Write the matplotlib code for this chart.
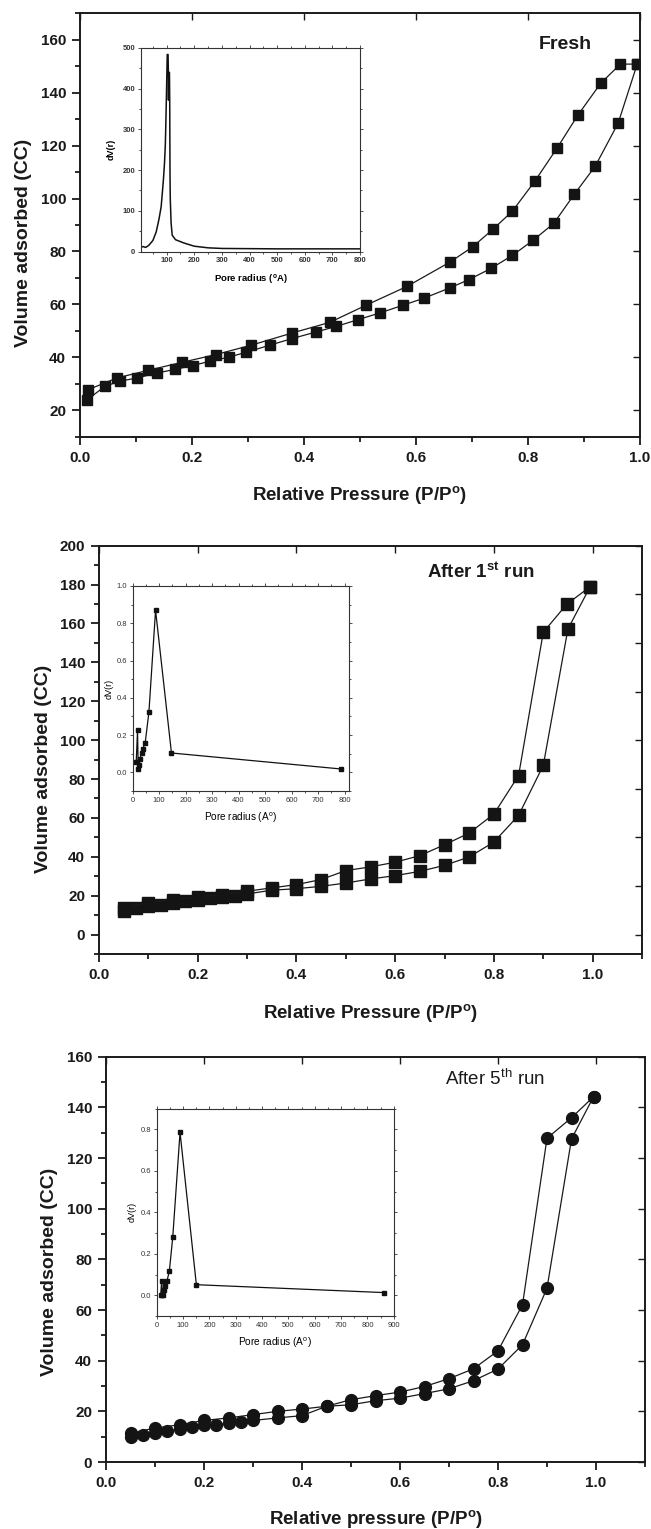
import matplotlib
matplotlib.use("Agg")
import matplotlib.pyplot as plt
from matplotlib.ticker import MultipleLocator

plt.rcParams['font.family'] = ['Liberation Sans', 'DejaVu Sans']
plt.rcParams['mathtext.default'] = 'regular'

# ---------------- Data ----------------
# Panel 1: Fresh
fresh_ads_p = [0.013, 0.045, 0.072, 0.102, 0.138, 0.169, 0.201, 0.232, 0.266, 0.297,
               0.339, 0.379, 0.422, 0.458, 0.496, 0.536, 0.577, 0.615, 0.660, 0.695,
               0.734, 0.772, 0.809, 0.846, 0.883, 0.920, 0.961, 0.995]
fresh_ads_v = [24.0, 29.1, 31.0, 32.2, 34.1, 35.4, 36.9, 38.5, 40.1, 41.9,
               44.6, 47.1, 49.6, 51.7, 54.2, 56.8, 59.7, 62.4, 66.2, 69.4,
               73.6, 78.5, 84.2, 90.6, 101.7, 112.2, 128.5, 150.8]
fresh_des_p = [0.995, 0.965, 0.930, 0.889, 0.852, 0.812, 0.772, 0.738, 0.701, 0.660,
               0.584, 0.511, 0.446, 0.379, 0.306, 0.242, 0.182, 0.122, 0.066, 0.015]
fresh_des_v = [150.8, 150.8, 143.6, 131.5, 119.1, 106.5, 95.2, 88.5, 81.7, 75.9,
               66.8, 59.7, 53.2, 49.2, 44.6, 41.0, 38.1, 35.1, 32.2, 27.8]

fresh_r = [7, 15, 24, 35, 50, 62, 72, 80, 84, 88, 92, 95, 97, 100, 102, 105, 106,
           106.5, 108, 110, 111, 112, 113, 116, 120, 132, 162, 200, 250, 300, 400,
           500, 600, 700, 800]
fresh_dv = [11, 12, 10, 15, 27, 48, 79, 110, 142, 175, 216, 260, 315, 414, 484, 484, 446,
            372, 440, 440, 370, 192, 130, 70, 40, 29, 21, 13, 9, 7.5, 7,
            6.5, 6.5, 6.5, 6.5]

# Panel 2: After 1st run
run1_ads_p = [0.05, 0.075, 0.10, 0.125, 0.15, 0.175, 0.20, 0.225, 0.25, 0.275, 0.30,
              0.35, 0.40, 0.45, 0.50, 0.55, 0.60, 0.65, 0.70, 0.75, 0.80, 0.85,
              0.90, 0.95, 0.995]
run1_ads_v = [12.0, 13.5, 14.6, 15.4, 16.3, 17.1, 18.0, 18.7, 19.3, 20.0, 20.9,
              22.8, 23.6, 24.8, 26.5, 28.6, 30.3, 32.5, 35.6, 39.9, 47.6, 61.3,
              87.0, 157.2, 178.9]
run1_des_p = [0.995, 0.948, 0.90, 0.85, 0.80, 0.75, 0.70, 0.65, 0.60, 0.55, 0.50,
              0.45, 0.40, 0.35, 0.30, 0.25, 0.20, 0.15, 0.10, 0.05]
run1_des_v = [178.9, 170.0, 155.5, 81.8, 62.0, 52.2, 46.2, 40.6, 37.2, 34.8, 32.9,
              28.3, 25.7, 24.0, 22.3, 20.5, 19.2, 18.0, 16.3, 13.7]

run1_r = [14, 19, 21.5, 25, 29, 34, 39, 48, 62, 87, 147, 788]
run1_dv = [0.054, 0.226, 0.018, 0.038, 0.073, 0.106, 0.127, 0.16, 0.324, 0.87, 0.104, 0.018]

# Panel 3: After 5th run
run5_ads_p = [0.05, 0.075, 0.10, 0.125, 0.15, 0.175, 0.20, 0.225, 0.25, 0.275, 0.30,
              0.35, 0.40, 0.45, 0.50, 0.55, 0.60, 0.65, 0.70, 0.75, 0.80, 0.85,
              0.90, 0.95, 0.995]
run5_ads_v = [9.9, 10.5, 11.4, 12.1, 13.0, 13.8, 14.5, 14.7, 15.4, 15.6, 16.4,
              17.4, 18.3, 22.0, 22.6, 24.2, 25.2, 27.0, 28.9, 32.1, 36.7, 46.3,
              68.6, 127.5, 144.2]
run5_des_p = [0.995, 0.95, 0.90, 0.85, 0.80, 0.75, 0.70, 0.65, 0.60, 0.55, 0.50,
              0.45, 0.40, 0.35, 0.30, 0.25, 0.20, 0.15, 0.10, 0.05]
run5_des_v = [144.2, 135.9, 127.8, 62.1, 43.9, 36.8, 32.9, 29.8, 27.6, 26.2, 24.6,
              22.0, 20.9, 20.0, 18.7, 17.4, 16.4, 14.7, 13.4, 11.4]

run5_r = [15, 19, 21.5, 25, 29, 33, 39, 48, 61, 88.6, 150.6, 862]
run5_dv = [0.0, 0.07, 0.0, 0.0, 0.024, 0.047, 0.069, 0.116, 0.281, 0.786, 0.051, 0.013]

# ---------------- Figure ----------------
W, H = 651, 1529
fig = plt.figure(figsize=(W / 100, H / 100), dpi=100)


def px_axes(left, top, right, bottom):
    return fig.add_axes([left / W, 1 - bottom / H, (right - left) / W, (bottom - top) / H])


def style_main(ax):
    for s in ax.spines.values():
        s.set_linewidth(1.4)
        s.set_color('#1a1a1a')
    ax.tick_params(which='both', direction='out', top=False, right=False,
                   width=1.3, colors='#1a1a1a')
    ax.tick_params(which='major', length=6, labelsize=11, pad=4)
    ax.tick_params(which='minor', length=3.5)
    sec_x = ax.secondary_xaxis('top')
    sec_y = ax.secondary_yaxis('right')
    for sec in (sec_x, sec_y):
        sec.tick_params(which='both', direction='in', width=1.0, labelsize=0,
                        colors='#1a1a1a')
        sec.tick_params(which='major', length=5)
        sec.tick_params(which='minor', length=3)
        for s in sec.spines.values():
            s.set_visible(False)
    sec_x.set_xticklabels([])
    sec_y.set_yticklabels([])
    return sec_x, sec_y


def bold_ticks(ax):
    for lab in ax.get_xticklabels() + ax.get_yticklabels():
        lab.set_fontweight('bold')
        lab.set_color('#1a1a1a')


def style_inset(ax, bold=False, lsize=5.5):
    for s in ax.spines.values():
        s.set_linewidth(0.8)
        s.set_color('#333333')
    ax.tick_params(which='both', direction='out', width=0.6, colors='#333333',
                   top=True, right=True)
    ax.tick_params(which='major', length=2.5, labelsize=lsize, pad=1.5)
    ax.tick_params(which='minor', length=1.5)
    if bold:
        for lab in ax.get_xticklabels() + ax.get_yticklabels():
            lab.set_fontweight('bold')


mk_col = '#141414'
line_kw = dict(color='#1a1a1a', lw=0.9)

# ----- Panel 1 -----
ax1 = px_axes(80, 13.3, 640, 436.7)
ax1.plot(fresh_ads_p, fresh_ads_v, marker='s', ms=7.5, mfc=mk_col, mec=mk_col, **line_kw)
ax1.plot(fresh_des_p, fresh_des_v, marker='s', ms=7.5, mfc=mk_col, mec=mk_col, **line_kw)
ax1.set_xlim(0, 1.0)
ax1.set_ylim(10, 170)
ax1.xaxis.set_major_locator(MultipleLocator(0.2))
ax1.xaxis.set_minor_locator(MultipleLocator(0.1))
ax1.yaxis.set_major_locator(MultipleLocator(20))
ax1.yaxis.set_minor_locator(MultipleLocator(10))
ax1.set_yticks([20, 40, 60, 80, 100, 120, 140, 160])
style_main(ax1)
bold_ticks(ax1)
ax1.set_ylabel('Volume adsorbed (CC)', fontsize=14, fontweight='bold', color='#1a1a1a')
ax1.yaxis.set_label_coords(-0.085, 0.4575)
ax1.set_xlabel('Relative Pressure (P/P$^{\\mathregular{o}}$)', fontsize=13.5,
               fontweight='bold', color='#1a1a1a')
ax1.xaxis.set_label_coords(0.5, -0.112)
ax1.text(0.82, 0.915, 'Fresh', transform=ax1.transAxes, fontsize=14, fontweight='bold',
         color='#1a1a1a', va='baseline', ha='left')

in1 = px_axes(141, 48, 360, 251.5)
in1.plot(fresh_r, fresh_dv, color='#111111', lw=1.1)
in1.set_xlim(7, 800)
in1.set_ylim(0, 500)
in1.xaxis.set_major_locator(MultipleLocator(100))
in1.xaxis.set_minor_locator(MultipleLocator(50))
in1.yaxis.set_major_locator(MultipleLocator(100))
in1.yaxis.set_minor_locator(MultipleLocator(50))
in1.set_xticks([100, 200, 300, 400, 500, 600, 700, 800])
style_inset(in1, bold=True, lsize=5.5)
in1.set_ylabel('dV(r)', fontsize=6.5, fontweight='bold', labelpad=5)
in1.set_xlabel('Pore radius ($^{\\mathregular{o}}$A)', fontsize=6.8, fontweight='bold', labelpad=6)

# ----- Panel 2 -----
ax2 = px_axes(99, 545.7, 642, 954)
ax2.plot(run1_ads_p, run1_ads_v, marker='s', ms=8, mfc=mk_col, mec=mk_col, **line_kw)
ax2.plot(run1_des_p, run1_des_v, marker='s', ms=8, mfc=mk_col, mec=mk_col, **line_kw)
ax2.set_xlim(0, 1.1)
ax2.set_ylim(-10, 200)
ax2.set_xticks([0.0, 0.2, 0.4, 0.6, 0.8, 1.0])
ax2.xaxis.set_minor_locator(MultipleLocator(0.1))
ax2.set_yticks(list(range(0, 201, 20)))
ax2.yaxis.set_minor_locator(MultipleLocator(10))
style_main(ax2)
bold_ticks(ax2)
ax2.set_ylabel('Volume adsorbed (CC)', fontsize=14, fontweight='bold', color='#1a1a1a')
ax2.yaxis.set_label_coords(-0.087, 0.453)
ax2.set_xlabel('Relative Pressure (P/P$^{\\mathregular{o}}$)', fontsize=13.5,
               fontweight='bold', color='#1a1a1a')
ax2.xaxis.set_label_coords(0.5, -0.117)
ax2.text(0.604, 0.921, 'After 1$^{\\mathregular{st}}$ run', transform=ax2.transAxes,
         fontsize=13.5, fontweight='bold', color='#1a1a1a', va='baseline', ha='left')

in2 = px_axes(132.5, 586, 348.5, 791)
in2.plot(run1_r, run1_dv, color='#111111', lw=0.9, marker='s', ms=2.2,
         mfc='#111111', mec='#111111')
in2.set_xlim(0, 815)
in2.set_ylim(-0.1, 1.0)
in2.set_xticks([0, 100, 200, 300, 400, 500, 600, 700, 800])
in2.xaxis.set_minor_locator(MultipleLocator(50))
in2.set_yticks([0.0, 0.2, 0.4, 0.6, 0.8, 1.0])
in2.yaxis.set_minor_locator(MultipleLocator(0.1))
style_inset(in2, lsize=5.5)
in2.set_ylabel('dV(r)', fontsize=6.5, labelpad=2)
in2.set_xlabel('Pore radius (A$^{\\mathregular{o}}$)', fontsize=7.2, labelpad=5)

# ----- Panel 3 -----
ax3 = px_axes(106, 1056.7, 645, 1462)
ax3.plot(run5_ads_p, run5_ads_v, marker='o', ms=8.5, mfc=mk_col, mec=mk_col, **line_kw)
ax3.plot(run5_des_p, run5_des_v, marker='o', ms=8.5, mfc=mk_col, mec=mk_col, **line_kw)
ax3.set_xlim(0, 1.1)
ax3.set_ylim(0, 160)
ax3.set_xticks([0.0, 0.2, 0.4, 0.6, 0.8, 1.0])
ax3.xaxis.set_minor_locator(MultipleLocator(0.1))
ax3.set_yticks(list(range(0, 161, 20)))
ax3.yaxis.set_minor_locator(MultipleLocator(10))
style_main(ax3)
bold_ticks(ax3)
ax3.set_ylabel('Volume adsorbed (CC)', fontsize=14, fontweight='bold', color='#1a1a1a')
ax3.yaxis.set_label_coords(-0.089, 0.47)
ax3.set_xlabel('Relative pressure (P/P$^{\\mathregular{o}}$)', fontsize=13.5,
               fontweight='bold', color='#1a1a1a')
ax3.xaxis.set_label_coords(0.5, -0.113)
ax3.text(0.629, 0.930, 'After 5$^{\\mathregular{th}}$ run', transform=ax3.transAxes,
         fontsize=13.5, color='#1a1a1a', va='baseline', ha='left')

in3 = px_axes(156.7, 1108.7, 393.75, 1316)
in3.plot(run5_r, run5_dv, color='#111111', lw=0.9, marker='s', ms=2.2,
         mfc='#111111', mec='#111111')
in3.set_xlim(0, 900)
in3.set_ylim(-0.1, 0.9)
in3.set_xticks([0, 100, 200, 300, 400, 500, 600, 700, 800, 900])
in3.xaxis.set_minor_locator(MultipleLocator(50))
in3.set_yticks([0.0, 0.2, 0.4, 0.6, 0.8])
in3.yaxis.set_minor_locator(MultipleLocator(0.1))
style_inset(in3, lsize=5.5)
in3.set_ylabel('dV(r)', fontsize=6.5, labelpad=3)
in3.set_xlabel('Pore radius (A$^{\\mathregular{o}}$)', fontsize=7.3, labelpad=5)

fig.savefig('out.png', dpi=100)
